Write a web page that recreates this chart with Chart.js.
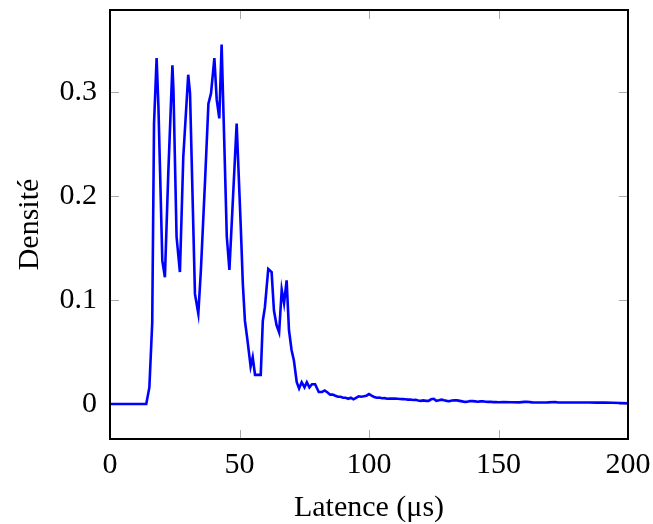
<!DOCTYPE html>
<html><head><meta charset="utf-8">
<script src="https://cdn.jsdelivr.net/npm/chart.js@4"></script>
<style>html,body{margin:0;padding:0;background:#fff}#wrap{width:653px;height:524px;position:relative}</style>
</head><body><div id="wrap"><canvas id="c"></canvas></div>
<script>
const latency = [0, 14, 15.2, 16.3, 17, 18, 18.7, 20.2, 21.2, 22.5, 24.1, 24.5, 25.7, 27, 28.3, 30.2, 30.9, 32.8, 34.1, 35.1, 36.7, 38, 39, 40.3, 41.2, 42.2, 43.1, 44.1, 45.1, 46.1, 47, 48.9, 50.5, 51.3, 52.1, 53, 54.3, 55.1, 56, 58.2, 59, 59.8, 61.1, 62.4, 63.3, 64.3, 65.3, 66.3, 67.2, 68.2, 69.1, 70.1, 71, 72.1, 73, 74, 75.1, 76, 77, 78, 79.2, 80.6, 81.9, 82.9,
  84, 85, 86, 87, 88, 89, 90, 91, 92, 93, 94, 95, 96, 97, 98, 99, 100, 101, 102, 103, 104, 105, 106, 107, 108, 109, 110, 111, 112, 113, 114, 115, 116, 117, 118, 119, 120, 121, 122, 123, 124, 125, 126, 127, 128, 129, 130, 131, 132, 133, 134, 135, 136, 137, 138, 139, 140, 141, 142, 143, 144, 145, 146, 147, 148, 149, 150,
  152, 155, 158, 160, 161, 163, 166, 169, 172, 173, 176, 179, 182, 185, 188, 191, 194, 197, 200];
const density = [0, 0, 0.016, 0.078, 0.27, 0.333, 0.286, 0.138, 0.122, 0.222, 0.326, 0.302, 0.161, 0.127, 0.238, 0.317, 0.299, 0.106, 0.087, 0.129, 0.215, 0.289, 0.299, 0.333, 0.293, 0.275, 0.346, 0.254, 0.161, 0.129, 0.174, 0.27, 0.17, 0.115, 0.08, 0.063, 0.036, 0.045, 0.028, 0.028, 0.08, 0.093, 0.13, 0.127, 0.09, 0.076, 0.069, 0.11, 0.097, 0.119, 0.071, 0.052, 0.042, 0.021, 0.015, 0.021, 0.016, 0.021, 0.016, 0.019, 0.019, 0.0116, 0.0116, 0.013,
  0.011, 0.009, 0.009, 0.008, 0.007, 0.007, 0.006, 0.006, 0.005, 0.006, 0.0045, 0.006, 0.0074, 0.007, 0.0074, 0.008, 0.0095, 0.008, 0.0068, 0.006, 0.0062, 0.0055, 0.0056, 0.005, 0.0053, 0.0052, 0.0052, 0.005, 0.0048, 0.0047, 0.0045, 0.0042, 0.0043, 0.0038, 0.004, 0.0033, 0.003, 0.0035, 0.003, 0.003, 0.0045, 0.005, 0.003, 0.0035, 0.0042, 0.0035, 0.003, 0.0027, 0.0033, 0.0036, 0.0035, 0.003, 0.0025, 0.002, 0.0022, 0.0028, 0.0028, 0.0025, 0.0022, 0.0025, 0.0027, 0.0022, 0.002, 0.0021, 0.0018, 0.0018, 0.0017,
  0.0018, 0.0017, 0.0016, 0.002, 0.0021, 0.0016, 0.0015, 0.0016, 0.0019, 0.0015, 0.0015, 0.0014, 0.0014, 0.0015, 0.0013, 0.0013, 0.0012, 0.0009, 0.0007];
const xTicks = [0, 50, 100, 150, 200];
const yTicks = [0, 0.1, 0.2, 0.3];
const xTitle = 'Latence (μs)';
const yTitle = 'Densité';

const FONT = "'Liberation Serif', 'DejaVu Serif', serif";

const framePlugin = {
  id: 'frame',
  beforeDatasetsDraw(chart) {
    const {ctx, chartArea: a, scales: {x, y}} = chart;
    ctx.save();
    ctx.strokeStyle = '#aaaaaa';
    ctx.lineWidth = 1;
    const L = 9;
    ctx.beginPath();
    xTicks.forEach(v => {
      const px = Math.round(x.getPixelForValue(v)) + 0.5;
      ctx.moveTo(px, a.bottom); ctx.lineTo(px, a.bottom - L);
      ctx.moveTo(px, a.top); ctx.lineTo(px, a.top + L);
    });
    yTicks.forEach(v => {
      const py = Math.round(y.getPixelForValue(v)) + 0.5;
      ctx.moveTo(a.left, py); ctx.lineTo(a.left + L, py);
      ctx.moveTo(a.right, py); ctx.lineTo(a.right - L, py);
    });
    ctx.stroke();
    ctx.restore();
  },
  afterDraw(chart) {
    const {ctx, chartArea: a} = chart;
    ctx.save();
    ctx.strokeStyle = '#000';
    ctx.lineWidth = 2;
    ctx.strokeRect(a.left, a.top, a.right - a.left, a.bottom - a.top);
    ctx.restore();
  }
};

new Chart(document.getElementById('c'), {
  type: 'line',
  data: {
    datasets: [{
      data: latency.map((v, i) => ({x: v, y: density[i]})),
      borderColor: '#0000ff',
      borderWidth: 2.6,
      pointRadius: 0,
      tension: 0,
      fill: false
    }]
  },
  options: {
    responsive: true,
    maintainAspectRatio: false,
    animation: false,
    devicePixelRatio: 1,
    layout: {padding: {top: 10, right: 25, left: 0, bottom: 0}},
    plugins: {legend: {display: false}, tooltip: {enabled: false}},
    scales: {
      x: {
        type: 'linear', min: 0, max: 200,
        afterBuildTicks: s => { s.ticks = xTicks.map(v => ({value: v})); },
        afterFit: s => { s.height = 85; s.paddingLeft = 0; s.paddingRight = 0; },
        grid: {display: false, drawTicks: false},
        border: {display: false},
        ticks: {padding: 8, color: '#000', font: {family: FONT, size: 30}, maxRotation: 0},
        title: {display: true, text: xTitle, color: '#000', font: {family: FONT, size: 30}, padding: {top: 0, bottom: -2}}
      },
      y: {
        type: 'linear', min: -0.0337, max: 0.3793,
        afterBuildTicks: s => { s.ticks = yTicks.map(v => ({value: v})); },
        afterFit: s => { s.width = 110; s.paddingTop = 0; s.paddingBottom = 0; },
        grid: {display: false, drawTicks: false},
        border: {display: false},
        ticks: {padding: 13, color: '#000', font: {family: FONT, size: 30}, callback: v => String(Math.round(v * 10) / 10)},
        title: {display: true, text: yTitle, color: '#000', font: {family: FONT, size: 30}, padding: {top: 12, bottom: 0}}
      }
    }
  },
  plugins: [framePlugin]
});
</script>
</body></html>
